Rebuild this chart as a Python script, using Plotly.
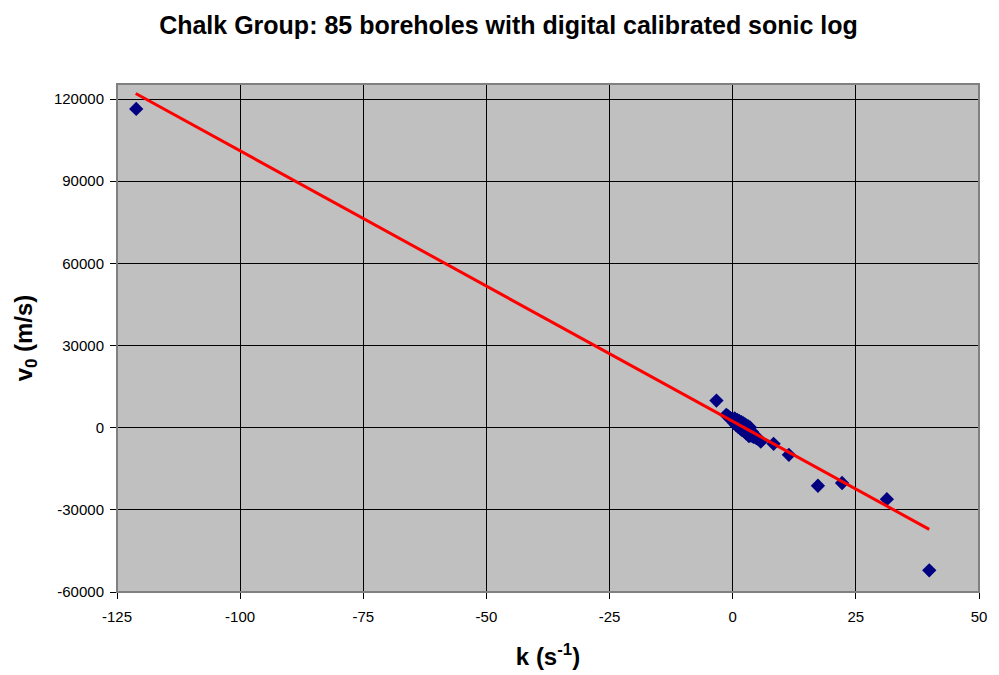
import plotly.graph_objects as go

# Data
outlier_k = [-121.1, -3.3, 5.7, 8.3, 11.4, 17.3, 22.2, 31.3, 39.9]
outlier_v0 = [116400, 9900, -5100, -5900, -9900, -21200, -20200, -26100, -52100]

cluster_k = [-1.3, -1.0, -0.8, -0.6, -0.5, -0.3, -0.2, 0.0, 0.1, 0.2,
             0.3, 0.4, 0.5, 0.6, 0.7, 0.8, 0.9, 1.0, 1.0, 1.1,
             1.2, 1.3, 1.4, 1.5, 1.5, 1.6, 1.7, 1.8, 1.9, 2.0,
             2.0, 2.1, 2.2, 2.3, 2.4, 2.5, 2.5, 2.6, 2.7, 2.8,
             2.9, 3.0, 3.0, 3.1, 3.2, 3.3, 3.4, 3.5, 3.6, 3.7,
             3.8, 4.0, 4.1, 4.3, 4.5, 4.7, 4.9, 5.0, 0.4, 0.9,
             1.3, 1.8, 2.2, 2.6, 3.1, 3.5, 1.1, 1.6, 2.4, 2.9,
             3.3, 0.2, 0.7, 1.9, 2.7, 3.9]
cluster_v0 = [4700, 4300, 3800, 3600, 3400, 3200, 3000, 2700, 2900, 2400,
              2600, 2100, 2300, 1900, 2000, 1600, 1800, 1300, 1500, 1000,
              1200, 800, 1000, 500, 700, 300, 500, 0, 200, -300,
              100, -500, -200, -800, -400, -1100, -700, -1300, -900, -1600,
              -1200, -1900, -1400, -2100, -1700, -2400, -2000, -2600, -2300, -2900,
              -2500, -3100, -2800, -3400, -3000, -3600, -3500, -4000, 3400, 2800,
              2500, 2000, 1600, 1100, 600, 100, 300, -400, -1400, -2200,
              -3100, 1900, 900, -900, -2000, -1500]

all_k = outlier_k + cluster_k
all_v0 = outlier_v0 + cluster_v0

# Linear trendline (as drawn in the chart)
trend_slope = -988.0
trend_intercept = 2300.0
trend_k = [-121.2, 39.9]
trend_v0 = [trend_intercept + trend_slope * k for k in trend_k]

x_ticks = [-125, -100, -75, -50, -25, 0, 25, 50]
x_tick_labels = ["-125", "-100", "-75", "-50", "-25", "0", "25", "50"]
y_ticks = [-60000, -30000, 0, 30000, 60000, 90000, 120000]
y_tick_labels = ["-60000", "-30000", "0", "30000", "60000", "90000", "120000"]

fig = go.Figure()
fig.add_trace(go.Scatter(
    x=all_k, y=all_v0, mode="markers",
    marker=dict(symbol="diamond", size=11, color="#000080", line=dict(width=0)),
    showlegend=False, cliponaxis=False))
fig.add_trace(go.Scatter(
    x=trend_k, y=trend_v0, mode="lines",
    line=dict(color="#FF0000", width=3), showlegend=False))

font_family = "Liberation Sans, Arial, sans-serif"
fig.update_layout(
    width=999, height=675,
    margin=dict(l=117, r=20, t=84, b=83),
    paper_bgcolor="white", plot_bgcolor="#C0C0C0",
    font=dict(family=font_family, size=15, color="black"),
    title=dict(text="<b>Chalk Group: 85 boreholes with digital calibrated sonic log</b>",
               x=0.509, xanchor="center", y=0.963, yanchor="middle",
               font=dict(size=25, family=font_family, color="black")),
    xaxis=dict(range=[-125, 50], tickvals=x_ticks, ticktext=x_tick_labels,
               ticks="outside", ticklen=6, ticklabelstandoff=5, automargin=False,
               tickcolor="black", showline=True, linecolor="black", linewidth=1,
               showgrid=True, gridcolor="black", gridwidth=1, zeroline=False,
               tickfont=dict(size=15),
               title=dict(text="<b>k (s<sup>-1</sup>)</b>", font=dict(size=24), standoff=24)),
    yaxis=dict(range=[-60000, 125500], tickvals=y_ticks, ticktext=y_tick_labels,
               ticks="outside", ticklen=6, ticklabelstandoff=3, automargin=False,
               tickcolor="black", showline=True, linecolor="black", linewidth=1,
               showgrid=True, gridcolor="black", gridwidth=1, zeroline=False,
               tickfont=dict(size=15),
               title=dict(text="<b>v<sub>0</sub> (m/s)</b>", font=dict(size=24), standoff=14)),
)
fig.add_shape(type="rect", xref="paper", yref="paper", x0=0, y0=0, x1=1, y1=1,
              line=dict(color="#808080", width=2), layer="above")
fig.write_html("out.html")
